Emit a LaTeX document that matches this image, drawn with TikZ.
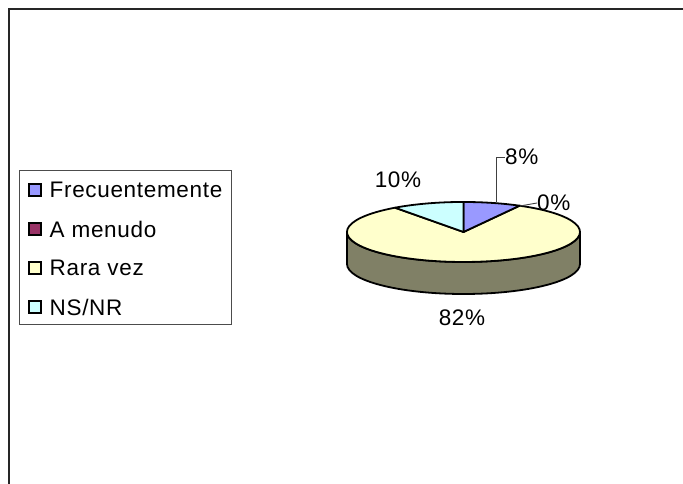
\documentclass[tikz,border=0pt]{standalone}
\usepackage{fontspec}
\setmainfont[LetterSpace=3]{Liberation Sans}
\definecolor{cblue}{RGB}{153,153,255}
\definecolor{cmaroon}{RGB}{153,51,102}
\definecolor{ccream}{RGB}{255,255,204}
\definecolor{ccyan}{RGB}{204,255,255}
\definecolor{cside}{RGB}{128,128,102}
\begin{document}
\begin{tikzpicture}[x=1pt,y=1pt,
  txt/.style={font=\fontsize{22.5}{26}\selectfont, inner sep=0pt},
  legtxt/.style={txt, anchor=west},
  legsq/.style={draw=black, line width=1.6pt, minimum size=12.5pt, inner sep=0pt},
  slice/.style={draw=black, line width=1.8pt, line join=round},
  leader/.style={draw=black!75, line width=0.9pt}]
\useasboundingbox (0,0) rectangle (683,484);
% frame
\draw[line width=1.4pt, black!85] (9,0) -- (9,475) -- (683,475);
% legend
\draw[black!70, line width=0.9pt] (19,160) rectangle (231,314);
\node[legsq, fill=cblue]   (s1) at (35,294) {};
\node[legsq, fill=cmaroon] (s2) at (35,255) {};
\node[legsq, fill=ccream]  (s3) at (35,216) {};
\node[legsq, fill=ccyan]   (s4) at (35,177) {};
\node[legtxt] (l1) at (49.5,294) {Frecuentemente};
\node[legtxt] (l2) at (49.5,255) {A menudo};
\node[legtxt] (l3) at (49.5,216) {Rara vez};
\node[legtxt] (l4) at (49.5,177) {NS/NR};
% pie
\coordinate (c) at (463.5,252);
\coordinate (ptop) at (463.5,282);
\coordinate (p8) at (519.6,278.3);
\coordinate (p10) at (395.0,276.3);
\def\rx{116.5pt}\def\ry{30pt}
\draw[slice, fill=cside] (347,252) -- (347,220)
  arc[start angle=180, end angle=360, x radius=\rx, y radius=\ry]
  -- (580,252)
  arc[start angle=360, end angle=180, x radius=\rx, y radius=\ry] -- cycle;
\draw[slice, fill=ccream] (c) -- (p8)
  arc[start angle=61.2, end angle=-234, x radius=\rx, y radius=\ry] -- cycle;
\draw[slice, fill=cblue] (c) -- (ptop)
  arc[start angle=90, end angle=61.2, x radius=\rx, y radius=\ry] -- cycle;
\draw[slice, fill=ccyan] (c) -- (p10)
  arc[start angle=126, end angle=90, x radius=\rx, y radius=\ry] -- cycle;
% labels
\node[txt, anchor=west] (t8) at (505,327) {8\%};
\node[txt, anchor=west] (t0) at (537,281) {0\%};
\node[txt] (t10) at (398,304) {10\%};
\node[txt] (t82) at (462,166) {82\%};
\coordinate (a8) at (496,282);
\coordinate (a0) at (520,278);
\draw[leader] (a8) |- (t8.west);
\draw[leader] (a0) -- (t0.west);
\end{tikzpicture}
\end{document}
